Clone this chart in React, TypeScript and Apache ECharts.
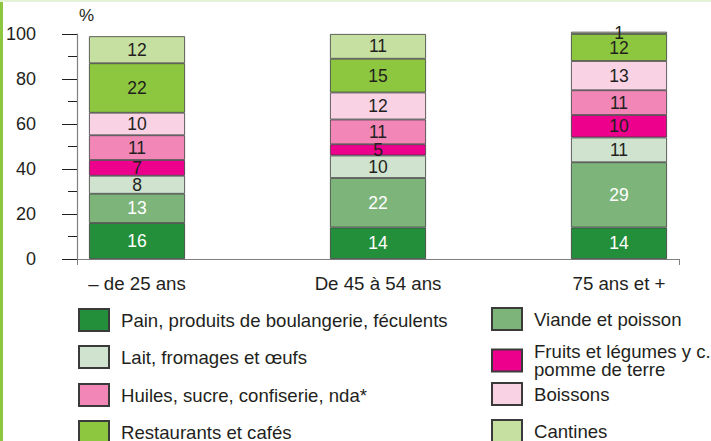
import React, { useEffect, useRef } from "react";
import * as echarts from "echarts";

const categories = ["– de 25 ans", "De 45 à 54 ans", "75 ans et +"];
const seriesNames = [
  "Pain, produits de boulangerie, féculents",
  "Viande et poisson",
  "Lait, fromages et œufs",
  "Fruits et légumes y c.\npomme de terre",
  "Huiles, sucre, confiserie, nda*",
  "Boissons",
  "Restaurants et cafés",
  "Cantines",
];
const pain = [16, 14, 14];
const viande = [13, 22, 29];
const lait = [8, 10, 11];
const fruits = [7, 5, 10];
const huiles = [11, 11, 11];
const boissons = [10, 12, 13];
const restaurants = [22, 15, 12];
const cantines = [12, 11, 1];
const seriesValues = [pain, viande, lait, fruits, huiles, boissons, restaurants, cantines];
const colors = ["#248F3A", "#7DB47A", "#CFE3CE", "#EC008C", "#F287B7", "#F9D3E4", "#8DC63F", "#C6E0A1"];
const labelColors = ["#FFFFFF", "#FFFFFF", "#231F20", "#231F20", "#231F20", "#231F20", "#231F20", "#231F20"];

const FONT = "'Liberation Sans', Arial, sans-serif";
const TXT = "#231F20";

const legendPos = [
  { left: 78, top: 306 },
  { left: 491, top: 305 },
  { left: 78, top: 343 },
  { left: 491, top: 342 },
  { left: 78, top: 381 },
  { left: 491, top: 380 },
  { left: 78, top: 418 },
  { left: 491, top: 417 },
];

export default function App() {
  const ref = useRef<HTMLDivElement>(null);
  useEffect(() => {
    if (!ref.current) return;
    const chart = echarts.init(ref.current, null, { renderer: "svg" });
    chart.setOption({
      animation: false,
      backgroundColor: "#FFFFFF",
      textStyle: { fontFamily: FONT },
      graphic: [
        { type: "rect", shape: { x: 0, y: 0, width: 3, height: 441 }, style: { fill: "#8DC63F" } },
        { type: "rect", shape: { x: 0, y: 0, width: 711, height: 2 }, style: { fill: "#E4F2D5" } },
      ],
      grid: [
        // bars: category ticks at the bar centres
        { left: 137, right: 92, top: 34, bottom: 182, containLabel: false },
        // visible axes frame
        { left: 77, right: 32, top: 34, bottom: 182, containLabel: false },
      ],
      xAxis: [
        {
          type: "category",
          gridIndex: 0,
          data: categories,
          boundaryGap: false,
          axisLine: { show: false },
          axisTick: { show: false },
          axisLabel: { fontSize: 18.7, color: TXT, margin: 15, fontFamily: FONT, interval: 0 },
        },
        {
          type: "value",
          gridIndex: 1,
          min: 0,
          max: 1,
          splitLine: { show: false },
          axisLine: { show: true, onZero: false, lineStyle: { color: "#808080", width: 1 } },
          axisTick: { show: true, customValues: [0, 1], length: 6, lineStyle: { color: "#808080" } },
          axisLabel: { show: false },
        },
      ],
      yAxis: [
        {
          type: "value",
          gridIndex: 0,
          min: 0,
          max: 100,
          show: false,
        },
        {
          type: "value",
          gridIndex: 1,
          min: 0,
          max: 100,
          interval: 20,
          name: "%",
          nameLocation: "end",
          nameGap: 10,
          nameTextStyle: { fontSize: 17, color: TXT, align: "left", padding: [0, 0, 0, 2], fontFamily: FONT },
          splitLine: { show: false },
          axisLine: { show: true, onZero: false, lineStyle: { color: "#808080", width: 1.2 } },
          axisTick: { show: true, length: 15, lineStyle: { color: "#231F20" } },
          minorTick: { show: true, splitNumber: 2, length: 9, lineStyle: { color: "#231F20" } },
          axisLabel: { fontSize: 18, color: TXT, margin: 41, fontFamily: FONT },
        },
      ],
      legend: seriesNames.map((n, i) => ({
        data: [n],
        left: legendPos[i].left,
        top: legendPos[i].top,
        padding: 0,
        itemWidth: 30,
        itemHeight: 22,
        icon: "rect",
        selectedMode: false,
        textStyle: {
          fontSize: 18.6,
          color: TXT,
          fontFamily: FONT,
          lineHeight: 18,
          padding: n.includes("\n") ? [0, 0, 0, 7] : [10, 0, 0, 7],
        },
      })),
      series: seriesNames.map((n, i) => ({
        name: n,
        type: "bar",
        xAxisIndex: 0,
        yAxisIndex: 0,
        stack: "total",
        barWidth: 96,
        clip: false,
        data: seriesValues[i],
        itemStyle: { color: colors[i], borderColor: "#3A3A3A", borderWidth: 0.8 },
        label: {
          show: true,
          position: "inside",
          fontSize: 17.5,
          color: labelColors[i],
          fontFamily: FONT,
        },
      })),
    });
    return () => chart.dispose();
  }, []);
  return (
    <div
      ref={ref}
      style={{ position: "fixed", left: 0, top: 0, width: 711, height: 441, background: "#fff" }}
    />
  );
}
